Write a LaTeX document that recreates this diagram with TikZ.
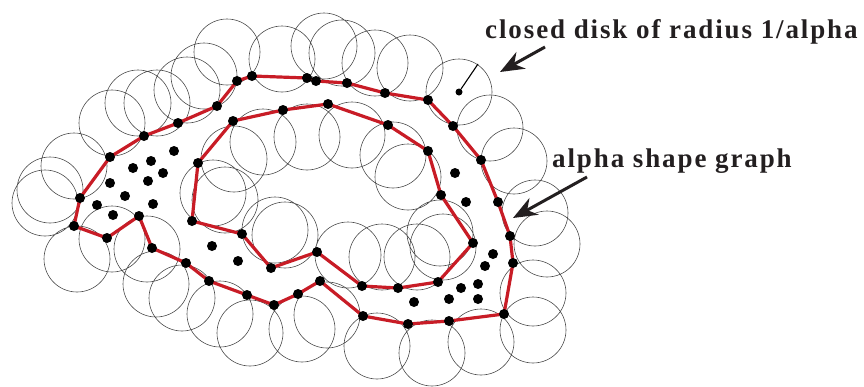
\documentclass[tikz,border=0pt]{standalone}
\usepackage{fontspec}
\newfontfamily\labelfont[LetterSpace=7]{Liberation Serif}
\usetikzlibrary{arrows.meta,backgrounds}
\definecolor{hullred}{RGB}{200,28,38}
\definecolor{arrowblack}{RGB}{35,31,32}

\begin{document}
\begin{tikzpicture}[
        x=1pt, y=-1pt,
        pt/.style={circle, fill=black, inner sep=0pt, minimum size=10pt},
        ctr/.style={circle, fill=black, inner sep=0pt, minimum size=7pt},
        disk/.style={draw=black!70, line width=0.6pt},
        hull/.style={draw=hullred, line width=3.2pt, line join=round},
        ar/.style={-{Stealth[length=24pt,width=19pt]}, line width=3pt, draw=arrowblack},
        lbl/.style={font=\labelfont\bfseries\fontsize{27}{30}\selectfont, inner sep=0pt, text=arrowblack},
    ]
    \useasboundingbox (0,0) rectangle (864,386);

    % outer boundary
    \node[pt](o1) at (74,226) {};
    \node[pt](o2) at (80,198) {};
    \node[pt](o3) at (110,157) {};
    \node[pt](o4) at (144,136) {};
    \node[pt](o5) at (178,123) {};
    \node[pt](o6) at (217,106) {};
    \node[pt](o7) at (237,81) {};
    \node[pt](o8) at (252,76) {};
    \node[pt](o9) at (307,78) {};
    \node[pt](o10) at (316,81) {};
    \node[pt](o11) at (347,83) {};
    \node[pt](o12) at (385,93) {};
    \node[pt](o13) at (428,100) {};
    \node[pt](o14) at (453,126) {};
    \node[pt](o15) at (481,160) {};
    \node[pt](o16) at (498,202) {};
    \node[pt](o17) at (510,236) {};
    \node[pt](o18) at (513,263) {};
    \node[pt](o19) at (504,314) {};
    \node[pt](o20) at (449,321) {};
    \node[pt](o21) at (408,324) {};
    \node[pt](o22) at (363,316) {};
    \node[pt](o23) at (320,281) {};
    \node[pt](o24) at (298,294) {};
    \node[pt](o25) at (274,305) {};
    \node[pt](o26) at (247,295) {};
    \node[pt](o27) at (209,281) {};
    \node[pt](o28) at (186,263) {};
    \node[pt](o29) at (152,248) {};
    \node[pt](o30) at (139,216) {};
    \node[pt](o31) at (107,238) {};

    % inner boundary
    \node[pt](i1) at (198,163) {};
    \node[pt](i2) at (233,121) {};
    \node[pt](i3) at (283,110) {};
    \node[pt](i4) at (328,104) {};
    \node[pt](i5) at (388,125) {};
    \node[pt](i6) at (428,151) {};
    \node[pt](i7) at (441,195) {};
    \node[pt](i8) at (473,243) {};
    \node[pt](i9) at (438,282) {};
    \node[pt](i10) at (398,288) {};
    \node[pt](i11) at (362,286) {};
    \node[pt](i12) at (317,252) {};
    \node[pt](i13) at (271,268) {};
    \node[pt](i14) at (242,234) {};
    \node[pt](i15) at (192,221) {};

    % points inside
    \node[pt](l1) at (174,151) {};
    \node[pt](l2) at (151,161) {};
    \node[pt](l3) at (133,168) {};
    \node[pt](l4) at (163,173) {};
    \node[pt](l5) at (110,183) {};
    \node[pt](l6) at (148,181) {};
    \node[pt](l7) at (125,196) {};
    \node[pt](l8) at (153,204) {};
    \node[pt](l9) at (97,205) {};
    \node[pt](l10) at (113,215) {};
    \node[pt](m1) at (212,246) {};
    \node[pt](m2) at (238,261) {};
    \node[pt](r1) at (455,173) {};
    \node[pt](r2) at (466,202) {};
    \node[pt](r3) at (493,254) {};
    \node[pt](r4) at (485,266) {};
    \node[pt](r5) at (478,284) {};
    \node[pt](r6) at (461,288) {};
    \node[pt](r7) at (449,299) {};
    \node[pt](r8) at (478,299) {};
    \node[pt](r9) at (414,302) {};

    % disk with its radius
    \node[ctr](c) at (459,92) {};
    \coordinate (rim) at (478,64);
    \draw[line width=1.1pt] (c) -- (rim);

    \begin{scope}[on background layer]
    \draw[disk] (c) circle (33pt);
    \draw[disk]
    (45,203) circle (33pt) (50,190) circle (33pt) (74,166) circle (33pt)
    (112,123) circle (33pt) (138,103) circle (33pt) (157,103) circle (33pt)
    (187,90) circle (33pt) (204,76) circle (33pt) (227,52) circle (33pt)
    (282,59) circle (33pt) (324,46) circle (33pt) (342,53) circle (33pt)
    (375,63) circle (33pt) (410,68) circle (33pt) (490,128) circle (33pt)
    (514,161) circle (33pt) (535,213) circle (33pt) (547,244) circle (33pt)
    (533,293) circle (33pt) (533,330) circle (33pt) (481,342) circle (33pt)
    (432,353) circle (33pt) (377,346) circle (33pt) (327,315) circle (33pt)
    (302,329) circle (33pt) (250,333) circle (33pt) (220,314) circle (33pt)
    (182,298) circle (33pt) (156,284) circle (33pt) (147,249) circle (33pt)
    (112,239) circle (33pt) (77,259) circle (33pt)
    ;
    \draw[disk]
    (234,159) circle (33pt) (263,142) circle (33pt) (307,137) circle (33pt)
    (352,135) circle (33pt) (393,155) circle (33pt) (408,177) circle (33pt)
    (213,193) circle (33pt) (225,200) circle (33pt) (275,230) circle (33pt)
    (285,235) circle (33pt) (348,255) circle (33pt) (382,257) circle (33pt)
    (417,257) circle (33pt) (440,233) circle (33pt) (443,247) circle (33pt)
    ;
    \draw[hull] (o1.center) -- (o2.center) -- (o3.center) -- (o4.center)
    -- (o5.center) -- (o6.center) -- (o7.center) -- (o8.center)
    -- (o9.center) -- (o10.center) -- (o11.center) -- (o12.center)
    -- (o13.center) -- (o14.center) -- (o15.center) -- (o16.center)
    -- (o17.center) -- (o18.center) -- (o19.center) -- (o20.center)
    -- (o21.center) -- (o22.center) -- (o23.center) -- (o24.center)
    -- (o25.center) -- (o26.center) -- (o27.center) -- (o28.center)
    -- (o29.center) -- (o30.center) -- (o31.center) -- cycle;
    \draw[hull] (i1.center) -- (i2.center) -- (i3.center) -- (i4.center)
    -- (i5.center) -- (i6.center) -- (i7.center) -- (i8.center)
    -- (i9.center) -- (i10.center) -- (i11.center) -- (i12.center)
    -- (i13.center) -- (i14.center) -- (i15.center) -- cycle;
    \end{scope}

    % labels
    \node[lbl, anchor=base west](disklbl) at (485,38) {closed disk of radius 1/alpha};
    \node[lbl, anchor=base west](shapelbl) at (552,167) {alpha shape graph};
    \coordinate (from1) at (545,47);
    \coordinate (tip1) at (500,72);
    \coordinate (from2) at (587,177);
    \coordinate (tip2) at (513,218);
    \draw[ar] (from1) -- (tip1);
    \draw[ar] (from2) -- (tip2);
\end{tikzpicture}
\end{document}
